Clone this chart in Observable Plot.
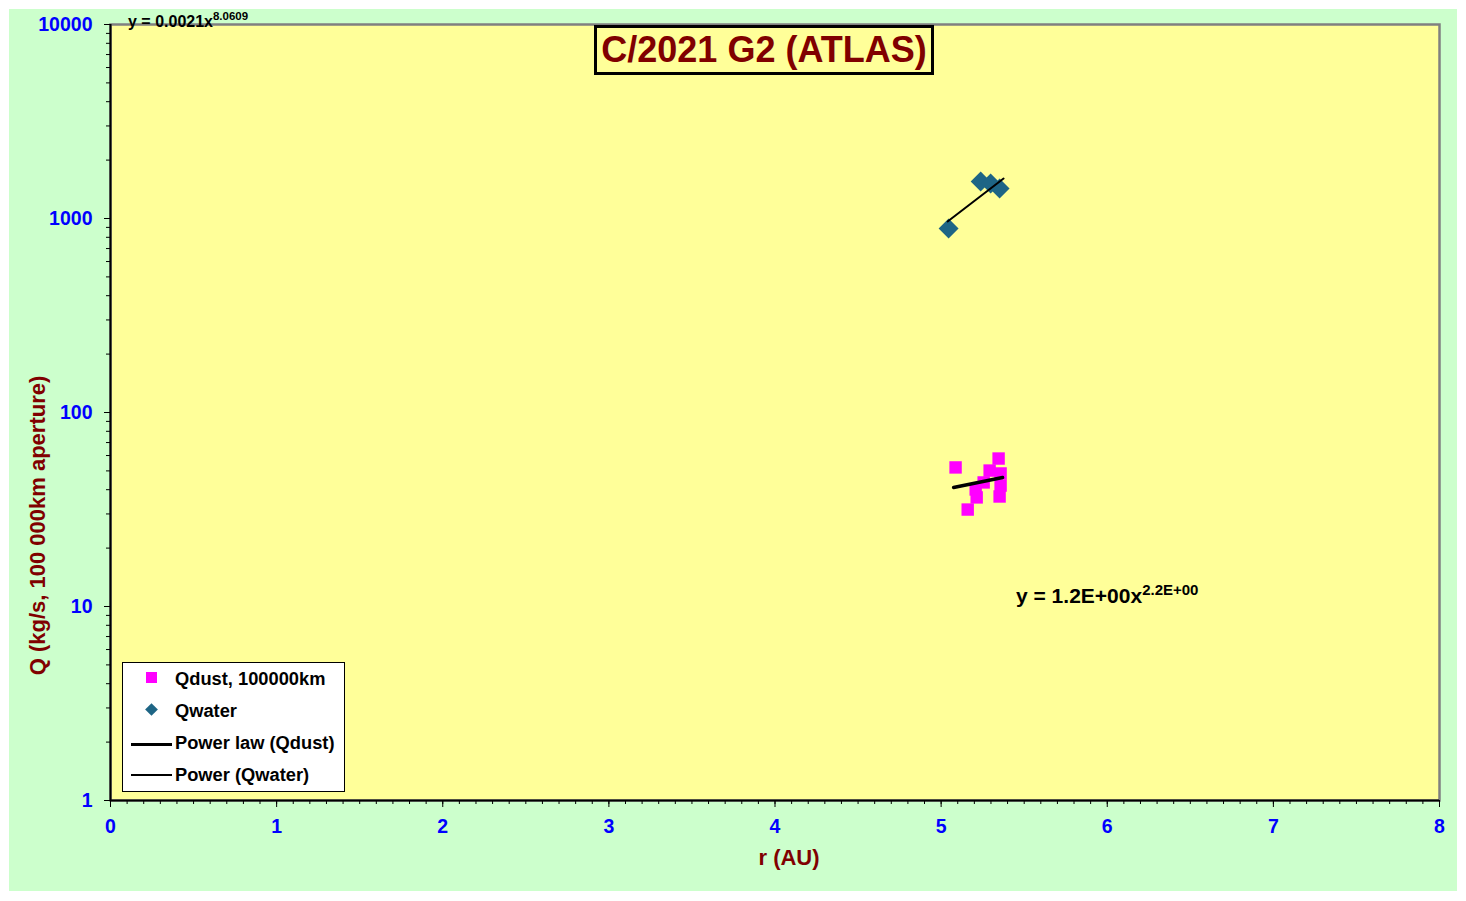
<!DOCTYPE html>
<html>
<head>
<meta charset="utf-8">
<script src="https://cdn.jsdelivr.net/npm/d3@7"></script>
<script src="https://cdn.jsdelivr.net/npm/@observablehq/plot@0.6"></script>
<style>
  html, body { margin: 0; padding: 0; background: #ffffff; }
  #wrap { position: relative; width: 1466px; height: 901px; overflow: hidden; font-family: "Liberation Sans", Arial, sans-serif; }
  #bg { position: absolute; left: 9px; top: 9px; width: 1448px; height: 882px; background: #CCFFCC; }
  #chart { position: absolute; left: 0; top: 0; }
  .ov { position: absolute; font-weight: bold; white-space: nowrap; }
  #title { left: 594px; top: 25px; width: 340px; height: 50px; box-sizing: border-box; border: 3px solid #000; background: #FFFF99; color: #800000; font-size: 36px; line-height: 44px; text-align: center; }
  #legend { position: absolute; left: 122px; top: 662px; width: 223px; height: 130px; box-sizing: border-box; border: 1.5px solid #000; background: #fff; }
  .lt { position: absolute; left: 52px; font-size: 18.3px; line-height: 18px; font-weight: bold; color: #000; white-space: nowrap; }
  .sup { position: relative; }
</style>
</head>
<body>
<div id="wrap">
  <div id="bg"></div>
  <div id="chart"></div>
</div>
<script>
// ---- data ----
const dustR = [5.087, 5.346, 5.292, 5.358, 5.256, 5.358, 5.208, 5.214, 5.352, 5.160];
const dustQ = [52.1, 57.9, 50.2, 48.5, 43.6, 42.0, 40.1, 36.5, 36.9, 31.6];
const waterR = [5.045, 5.238, 5.298, 5.352];
const waterQ = [888, 1552, 1515, 1428];
const dustFitR = [5.075, 5.370];
const dustFitQ = [41.1, 46.2];
const waterFitR = [5.039, 5.376];
const waterFitQ = [965, 1607];
const xTicks = [0, 1, 2, 3, 4, 5, 6, 7, 8];
const yTicks = [1, 10, 100, 1000, 10000];
const titleText = "C/2021 G2 (ATLAS)";
const xLabel = "r (AU)";
const yLabel = "Q (kg/s, 100 000km aperture)";
const legendLabels = ["Qdust, 100000km", "Qwater", "Power law (Qdust)", "Power (Qwater)"];

const dust = dustR.map((r, i) => ({r, q: dustQ[i]}));
const water = waterR.map((r, i) => ({r, q: waterQ[i]}));
const dustFit = dustFitR.map((r, i) => ({r, q: dustFitQ[i]}));
const waterFit = waterFitR.map((r, i) => ({r, q: waterFitQ[i]}));

const xMinor = d3.range(0, 81).map(i => i / 10);
const yMinor = [];
for (const dec of [1, 10, 100, 1000]) for (let m = 2; m <= 9; m++) yMinor.push(dec * m);

const dustColor = "#FF00FF";
const waterColor = "#1E6585";
const tickColor = "#0000FF";

const chart = Plot.plot({
  width: 1466,
  height: 901,
  marginLeft: 110,
  marginRight: 27,
  marginTop: 24,
  marginBottom: 101,
  style: { background: "transparent", fontFamily: "'Liberation Sans', Arial, sans-serif", overflow: "visible" },
  x: { domain: [0, 8], label: null },
  y: { type: "log", domain: [1, 10000], label: null },
  marks: [
    Plot.frame({ fill: "#FFFF99", stroke: "#808080", strokeWidth: 2.5 }),
    Plot.axisX(xMinor, { tickSize: 4, tickFormat: () => "", stroke: "#000", label: null }),
    Plot.axisX(xTicks, { tickSize: 7, tickPadding: 12, stroke: "#000", fill: tickColor, fontSize: 19.5, fontWeight: "bold", label: null, tickFormat: d3.format("d") }),
    Plot.axisY(yMinor, { tickSize: 4, tickFormat: () => "", stroke: "#000", label: null }),
    Plot.axisY(yTicks, { tickSize: 6, tickPadding: 12, stroke: "#000", fill: tickColor, fontSize: 19.5, fontWeight: "bold", label: null, tickFormat: d3.format("d") }),
    Plot.ruleX([0], { stroke: "#000", strokeWidth: 2 }),
    Plot.ruleY([1], { stroke: "#000", strokeWidth: 2 }),
    Plot.dot(dust, { x: "r", y: "q", symbol: "square", r: 7, fill: dustColor, stroke: "none" }),
    Plot.dot(water, { x: "r", y: "q", symbol: "diamond2", r: 9, fill: waterColor, stroke: "none" }),
    Plot.line(dustFit, { x: "r", y: "q", stroke: "#000", strokeWidth: 3.5 }),
    Plot.line(waterFit, { x: "r", y: "q", stroke: "#000", strokeWidth: 2 }),
    Plot.text([yLabel], { frameAnchor: "left", textAnchor: "middle", dx: -73, dy: 113, rotate: -90, fontSize: 22, fontWeight: "bold", fill: "#800000" }),
    Plot.text([xLabel], { frameAnchor: "bottom", textAnchor: "middle", dx: 14, dy: 64, fontSize: 22, fontWeight: "bold", fill: "#800000" })
  ]
});
document.getElementById("chart").appendChild(chart);

const wrap = document.getElementById("wrap");
function addDiv(id, cls, html, style) {
  const d = document.createElement("div");
  if (id) d.id = id;
  if (cls) d.className = cls;
  d.innerHTML = html;
  if (style) Object.assign(d.style, style);
  wrap.appendChild(d);
  return d;
}
addDiv("title", "ov", titleText);
// trendline equations
addDiv(null, "ov", 'y = 0.0021x<span class="sup" style="font-size:11.5px;top:-7px">8.0609</span>',
  { left: "128px", top: "14px", fontSize: "16px", lineHeight: "16px", color: "#000" });
addDiv(null, "ov", 'y = 1.2E+00x<span class="sup" style="font-size:15px;top:-8px">2.2E+00</span>',
  { left: "1016px", top: "585px", fontSize: "21px", lineHeight: "21px", color: "#000" });

// legend
const leg = document.createElement("div");
leg.id = "legend";
wrap.appendChild(leg);
const sym = [
  `<div style="position:absolute;left:23px;top:9px;width:11px;height:11px;background:${dustColor}"></div>`,
  `<div style="position:absolute;left:24px;top:42px;width:9px;height:9px;background:${waterColor};transform:rotate(45deg)"></div>`,
  `<div style="position:absolute;left:8px;top:79.5px;width:41px;height:3.5px;background:#000"></div>`,
  `<div style="position:absolute;left:8px;top:111px;width:41px;height:1.5px;background:#000"></div>`
];
leg.innerHTML = sym.join("") + legendLabels.map((t, i) =>
  `<div class="lt" style="top:${7 + i * 32}px">${t}</div>`).join("");
</script>
</body>
</html>
